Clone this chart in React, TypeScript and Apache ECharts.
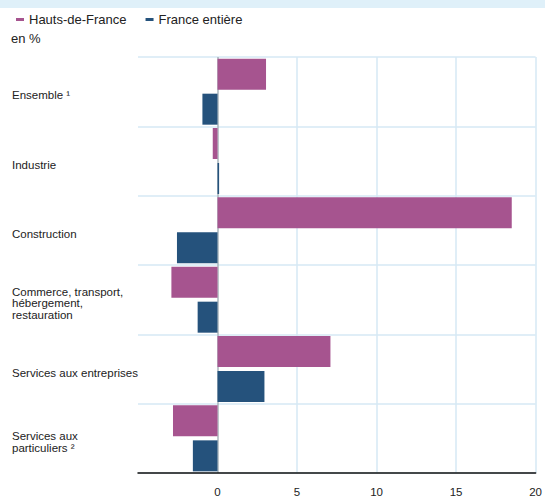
import React, { useEffect, useRef } from "react";
import * as echarts from "echarts";

const categories = [
  "Ensemble ¹",
  "Industrie",
  "Construction",
  "Commerce, transport,\nhébergement,\nrestauration",
  "Services aux entreprises",
  "Services aux\nparticuliers ²",
];
const hautsDeFrance = [3.05, -0.3, 18.5, -2.9, 7.1, -2.8];
const franceEntiere = [-0.95, 0.1, -2.55, -1.25, 2.95, -1.55];
const seriesNames = ["Hauts-de-France", "France entière"];

const FONT = "'Liberation Sans', Arial, sans-serif";

export default function App() {
  const ref = useRef<HTMLDivElement>(null);
  useEffect(() => {
    if (!ref.current) return;
    const chart = echarts.init(ref.current, undefined, { renderer: "svg" });
    chart.setOption({
      animation: false,
      textStyle: { fontFamily: FONT },
      graphic: [
        { type: "rect", left: 0, top: 0, shape: { width: 545, height: 8 }, style: { fill: "#dff0f9" } },
        { type: "text", left: 11, top: 32, style: { text: "en %", fontSize: 13, fill: "#222", fontFamily: FONT } },
      ],
      legend: {
        left: 11,
        top: 8,
        itemWidth: 8,
        itemHeight: 3,
        itemGap: 19,
        icon: "rect",
        textStyle: { fontSize: 13, color: "#222" },
        data: seriesNames,
      },
      grid: { left: 138, right: 7, top: 57, bottom: 25, containLabel: false },
      xAxis: {
        type: "value",
        min: -5,
        max: 20,
        interval: 5,
        axisLine: { show: true, onZero: false, lineStyle: { color: "#111", width: 1.5 } },
        axisTick: { show: false },
        axisLabel: {
          fontSize: 11.5,
          color: "#222",
          margin: 13,
          formatter: (v: number) => (v < 0 ? "" : String(v)),
        },
        splitLine: {
          show: true,
          lineStyle: {
            color: ["rgba(0,0,0,0)", "#a9b4bb", "#d6e9f5", "#d6e9f5", "#d6e9f5", "#d6e9f5"],
            width: 1.5,
          },
        },
      },
      yAxis: {
        type: "category",
        data: categories,
        inverse: true,
        axisLine: { show: false },
        axisTick: { show: false },
        axisLabel: {
          align: "left",
          margin: 126,
          fontSize: 11.5,
          lineHeight: 11.5,
          color: "#222",
          formatter: (v: string) =>
            "{s| }\n" + v.split("\n").map((l) => "{t|" + l + "}").join("\n"),
          rich: {
            s: { fontSize: 1, lineHeight: 7, height: 7 },
            t: { fontSize: 11.5, lineHeight: 11.5, color: "#222", fontFamily: FONT },
          },
        },
        splitLine: { show: true, lineStyle: { color: "#d6e9f5", width: 1.5 } },
      },
      series: [
        {
          name: seriesNames[0],
          type: "bar",
          data: hautsDeFrance,
          barWidth: 31,
          barGap: "13%",
          itemStyle: { color: "#a6548f" },
        },
        {
          name: seriesNames[1],
          type: "bar",
          data: franceEntiere,
          barWidth: 31,
          barGap: "13%",
          itemStyle: { color: "#25527c" },
        },
      ],
    });
    return () => chart.dispose();
  }, []);
  return (
    <div
      ref={ref}
      style={{ position: "fixed", left: 0, top: 0, width: 545, height: 498, background: "#fff" }}
    />
  );
}
